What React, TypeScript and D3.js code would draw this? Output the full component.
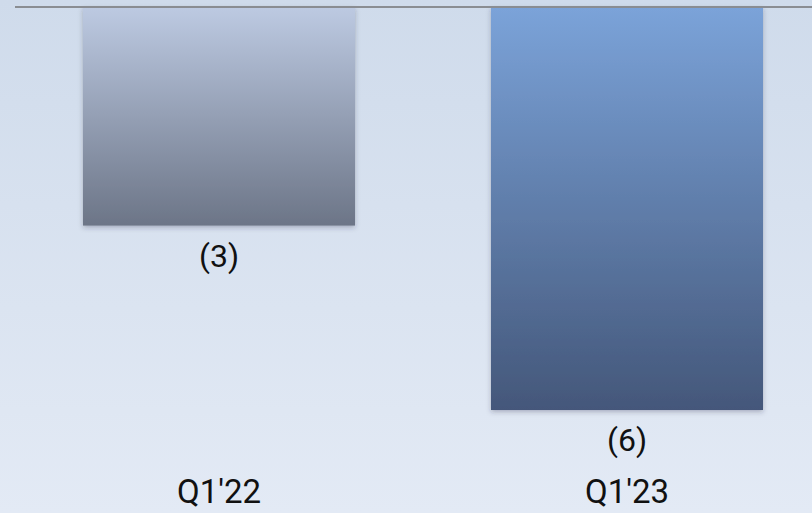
import React from "react";
import * as d3 from "d3";

const categories = ["Q1'22", "Q1'23"];
const values = [-3.2, -5.9];
const gradients = [
  ["#bdcae2", "#6c7587"],
  ["#7ba3d9", "#44577a"],
];

const W = 812;
const H = 513;

export default function App() {
  const y = d3.scaleLinear().domain([0, -5.9]).range([7, 410]);
  const bw = 272;
  const xs = d3.scalePoint().domain(categories).range([219, 627]);
  return (
    <div style={{ position: "fixed", left: 0, top: 0, width: W, height: H }}>
      <svg width={W} height={H} style={{ display: "block" }}>
        <defs>
          <linearGradient id="bg" x1="0" y1="0" x2="0" y2="1">
            <stop offset="0" stopColor="#cfdbeb" />
            <stop offset="1" stopColor="#e3eaf5" />
          </linearGradient>
          {gradients.map((g, i) => (
            <linearGradient key={i} id={`g${i}`} x1="0" y1="0" x2="0" y2="1">
              <stop offset="0" stopColor={g[0]} />
              <stop offset="1" stopColor={g[1]} />
            </linearGradient>
          ))}
          <filter id="sh" x="-10%" y="-10%" width="120%" height="120%">
            <feDropShadow dx="0" dy="2" stdDeviation="2.5" floodColor="#334" floodOpacity="0.3" />
          </filter>
        </defs>
        <rect width={W} height={H} fill="url(#bg)" />
        {categories.map((c, i) => {
          const cx = xs(c)!;
          const y0 = y(0);
          const y1 = y(values[i]);
          return (
            <g key={c}>
              <rect x={cx - bw / 2} y={y0} width={bw} height={y1 - y0} fill={`url(#g${i})`} filter="url(#sh)" />
              <text x={cx} y={y1 + 41} textAnchor="middle" fontFamily="Roboto" fontSize={32} fill="#111">
                {`(${Math.round(Math.abs(values[i]))})`}
              </text>
              <text x={cx} y={503} textAnchor="middle" fontFamily="Roboto" fontSize={33} fill="#111">
                {c}
              </text>
            </g>
          );
        })}
        <line x1={15} x2={W} y1={y(0)} y2={y(0)} stroke="#8a8d92" strokeWidth={2} />
      </svg>
    </div>
  );
}
